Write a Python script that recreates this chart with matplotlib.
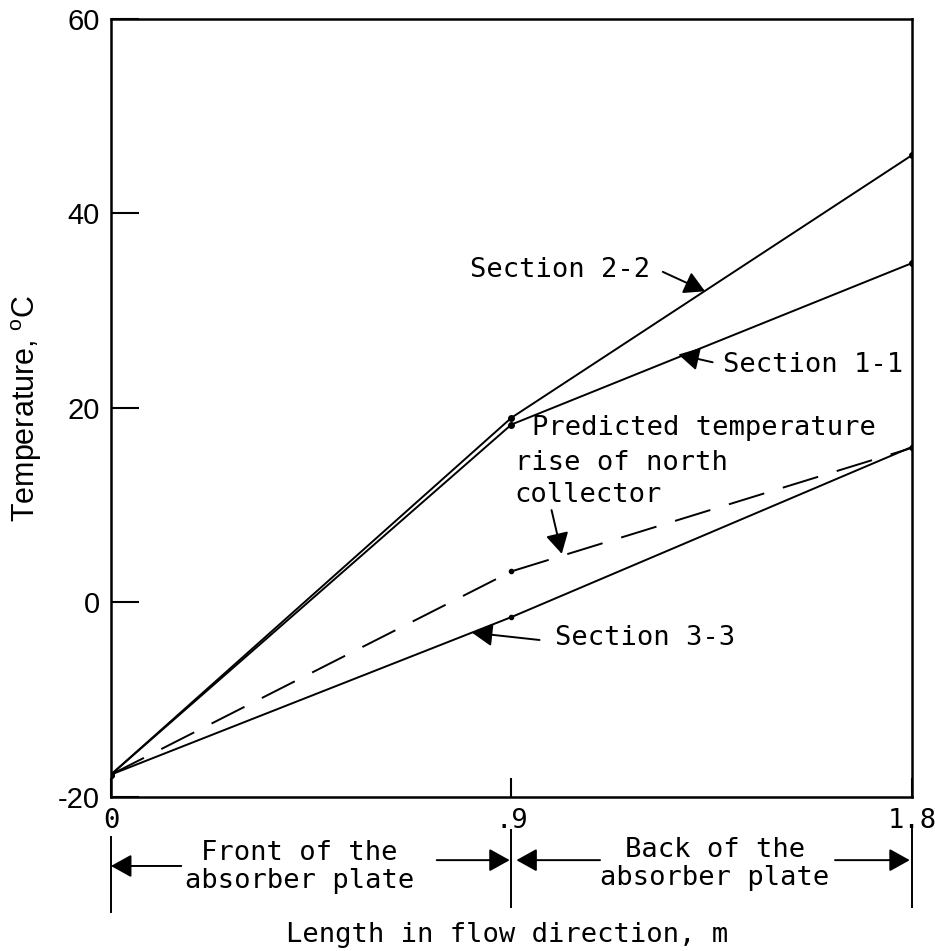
import numpy as np
import matplotlib
matplotlib.use("Agg")
import matplotlib.pyplot as plt

plt.rcParams['mathtext.fontset'] = 'custom'
plt.rcParams['mathtext.rm'] = 'Liberation Sans'

# data: length along flow (m) and temperature (C)
x_pts = [0.0, 0.9, 1.8]
sec_22 = [-17.7, 19.0, 46.0]
sec_11 = [-17.7, 18.3, 34.9]
predicted = [-17.7, 3.2, 15.9]
sec_33 = [-17.7, -1.5, 16.0]

yticks = [-20, 0, 20, 40, 60]
xticks = [0, 0.9, 1.8]
xtick_labels = ['0', '.9', '1.8']

mono = 'DejaVu Sans Mono'
sans = 'Liberation Sans'
fs = 19.5

fig = plt.figure(figsize=(9.35, 9.51), dpi=100)
ax = fig.add_axes([0.1187, 0.162, 0.8567, 0.818])

lw = 1.4
ax.plot(x_pts, sec_22, color='black', lw=lw, marker='o', ms=4)
ax.plot(x_pts, sec_11, color='black', lw=lw, marker='o', ms=4)
ax.plot(x_pts, predicted, color='black', lw=lw, marker='o', ms=3,
        dashes=(19, 10))
ax.plot(x_pts, sec_33, color='black', lw=lw, marker='o', ms=3)

ax.set_xlim(0, 1.8)
ax.set_ylim(-20, 60)
for s in ax.spines.values():
    s.set_linewidth(1.8)

ax.set_yticks(yticks)
ax.set_yticklabels([str(v) for v in yticks], fontfamily=sans, fontsize=21)
ax.set_xticks(xticks)
ax.set_xticklabels(xtick_labels, fontfamily=mono, fontsize=19.5)
ax.tick_params(axis='y', direction='in', length=20, width=1.5, pad=8)
ax.tick_params(axis='x', direction='in', length=14, width=1.5, pad=8)

arrow = dict(arrowstyle='-|>,head_length=0.45,head_width=0.25', color='black',
             lw=1.4, mutation_scale=28, shrinkA=0, shrinkB=0)

# curve labels
ax.text(0.806, 34.2, 'Section 2-2', family=mono, fontsize=fs, va='center')
ax.annotate('', xy=(1.335, 32.0), xytext=(1.240, 34.0), arrowprops=arrow)

ax.text(1.375, 24.4, 'Section 1-1', family=mono, fontsize=fs, va='center')
ax.annotate('', xy=(1.275, 25.5), xytext=(1.352, 24.7), arrowprops=arrow)

ax.text(0.946, 17.9, 'Predicted temperature', family=mono, fontsize=fs,
        va='center')
ax.text(0.907, 14.35, 'rise of north', family=mono, fontsize=fs, va='center')
ax.text(0.907, 11.05, 'collector', family=mono, fontsize=fs, va='center')
ax.annotate('', xy=(1.013, 5.0), xytext=(0.990, 9.5), arrowprops=arrow)

ax.text(0.997, -3.65, 'Section 3-3', family=mono, fontsize=fs, va='center')
ax.annotate('', xy=(0.811, -3.1), xytext=(0.963, -3.86), arrowprops=arrow)

# region markers below the axis
for xv, y0, y1 in [(0.0, -24.1, -31.8), (0.9, -23.4, -31.3), (1.8, -23.2, -31.3)]:
    ax.plot([xv, xv], [y0, y1], color='black', lw=1.4, clip_on=False)

ax.text(0.424, -27.2, 'Front of the\nabsorber plate', family=mono,
        fontsize=fs, ha='center', va='center', linespacing=1.1)
ax.text(1.357, -26.9, 'Back of the\nabsorber plate', family=mono,
        fontsize=fs, ha='center', va='center', linespacing=1.1)
for (x0, x1, yv) in [(0.158, 0.0, -27.1), (0.732, 0.896, -26.5),
                     (1.099, 0.911, -26.5), (1.627, 1.795, -26.5)]:
    ax.annotate('', xy=(x1, yv), xytext=(x0, yv), arrowprops=arrow,
                annotation_clip=False)

ax.text(0.889, -34.2, 'Length in flow direction, m', family=mono,
        fontsize=fs, ha='center', va='center')
ax.text(-0.19, 20.0, r'Temperature, $^{\mathrm{o}}$C', family=sans,
        fontsize=22, rotation=90, ha='center', va='center')

fig.savefig('out.png', dpi=100)
